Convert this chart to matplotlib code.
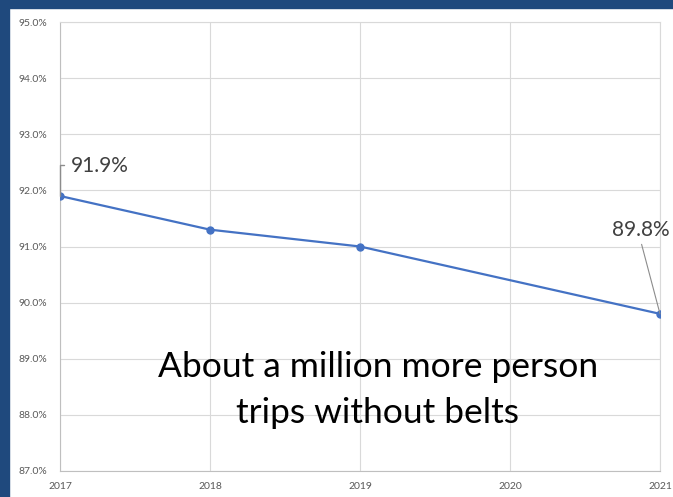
import matplotlib

matplotlib.use("Agg")
import matplotlib.pyplot as plt
from matplotlib.patches import Rectangle
from matplotlib.ticker import FuncFormatter

years = [2017, 2018, 2019, 2021]
belt_use = [91.9, 91.3, 91.0, 89.8]
note = "About a million more person\ntrips without belts"

plt.rcParams["font.family"] = ["Lato", "DejaVu Sans"]

fig = plt.figure(figsize=(6.73, 4.97), dpi=100)
W, H = 673, 497
ax = fig.add_axes([60 / W, 26 / H, 600 / W, 449 / H])

# navy frame on top and left
fig.patches.append(Rectangle((0, 0), 9 / W, 1, transform=fig.transFigure,
                             color="#1F497D", zorder=0))
fig.patches.append(Rectangle((0, 1 - 8 / H), 1, 8 / H, transform=fig.transFigure,
                             color="#1F497D", zorder=0))

ax.plot(years, belt_use, color="#4472C4", lw=1.6, marker="o", markersize=5, zorder=3)

ax.set_xlim(2017, 2021)
ax.set_ylim(87, 95)
ax.set_xticks([2017, 2018, 2019, 2020, 2021])
ax.set_yticks(range(87, 96))
ax.yaxis.set_major_formatter(FuncFormatter(lambda v, _: f"{v:.1f}%"))
ax.tick_params(length=0, labelsize=7.5, labelcolor="#595959")
ax.tick_params(axis="y", pad=9)
ax.tick_params(axis="x", pad=8)
ax.grid(color="#D9D9D9", lw=0.8)
ax.set_axisbelow(True)
for side in ["top", "right"]:
    ax.spines[side].set_color("#D9D9D9")
for side in ["left", "bottom"]:
    ax.spines[side].set_color("#BFBFBF")

first = ax.annotate(f"{belt_use[0]:.1f}%", xy=(years[0], belt_use[0]), xytext=(2017.07, 92.43),
                    ha="left", va="center", fontsize=15, color="#404040", zorder=4,
                    arrowprops=dict(arrowstyle="-", color="#8C8C8C", lw=1.0,
                                    connectionstyle="angle,angleA=180,angleB=90,rad=0",
                                    relpos=(0, 0.55), shrinkA=3, shrinkB=0))
last = ax.annotate(f"{belt_use[-1]:.1f}%", xy=(years[-1], belt_use[-1]), xytext=(2020.87, 91.29),
                   ha="center", va="center", fontsize=15, color="#404040", zorder=4,
                   arrowprops=dict(arrowstyle="-", color="#8C8C8C", lw=0.8,
                                   relpos=(0.5, 0), shrinkA=1, shrinkB=0))
first.arrow_patch.set_clip_on(False)
last.arrow_patch.set_clip_on(False)

ax.text(2019.12, 88.44, note, ha="center", va="center", fontsize=25.5,
        color="#000000", linespacing=1.55)

fig.savefig("out.png", dpi=100)
